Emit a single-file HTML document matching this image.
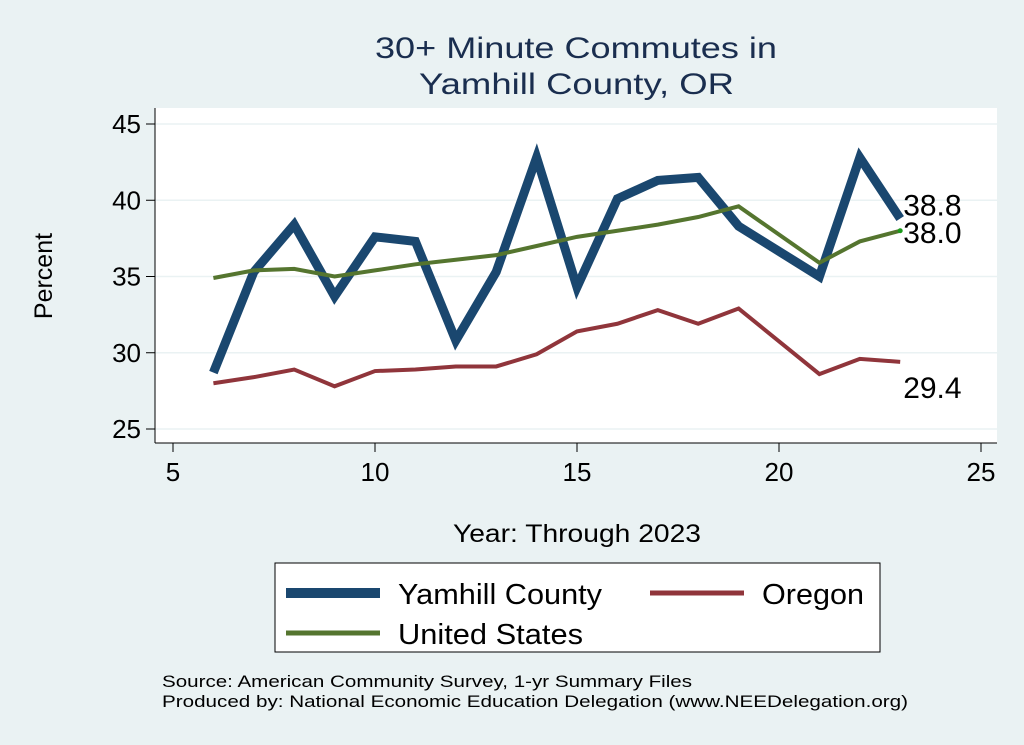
<!DOCTYPE html>
<html><head><meta charset="utf-8"><style>
body{margin:0;background:#eaf2f3;font-family:"Liberation Sans",Arial,sans-serif;}
svg{display:block}
</style></head><body>
<svg width="1024" height="745" viewBox="0 0 1024 745">
<rect x="0" y="0" width="1024" height="745" fill="#eaf2f3"/>
<text x="375" y="58" font-size="30" fill="#1a2e4f" textLength="402" lengthAdjust="spacingAndGlyphs">30+ Minute Commutes in</text>
<text x="419" y="94" font-size="30" fill="#1a2e4f" textLength="315" lengthAdjust="spacingAndGlyphs">Yamhill County, OR</text>
<rect x="155" y="108" width="842" height="335" fill="#fff"/>
<g id="grid"></g><g id="axes"></g><g id="series"></g>
<text x="52" y="276" font-size="25" text-anchor="middle" transform="rotate(-90 52 276)">Percent</text>
<text x="453" y="542" font-size="25" textLength="248" lengthAdjust="spacingAndGlyphs">Year: Through 2023</text>
<g>
<rect x="275" y="563" width="605" height="89" fill="#fff" stroke="#000" stroke-width="1"/>
<line x1="286" y1="593" x2="380" y2="593" stroke="#1a476f" stroke-width="10"/>
<text x="398" y="604" font-size="29" textLength="204" lengthAdjust="spacingAndGlyphs">Yamhill County</text>
<line x1="650" y1="593" x2="744" y2="593" stroke="#90353b" stroke-width="5"/>
<text x="762" y="604" font-size="29" textLength="102" lengthAdjust="spacingAndGlyphs">Oregon</text>
<line x1="286" y1="633" x2="380" y2="633" stroke="#55752f" stroke-width="5"/>
<text x="398" y="644" font-size="29" textLength="185" lengthAdjust="spacingAndGlyphs">United States</text>
</g>
<text x="162" y="687" font-size="17" textLength="530" lengthAdjust="spacingAndGlyphs">Source: American Community Survey, 1-yr Summary Files</text>
<text x="162" y="707" font-size="17" textLength="746" lengthAdjust="spacingAndGlyphs">Produced by: National Economic Education Delegation (www.NEEDelegation.org)</text>
</svg>
<script>
const years=[6,7,8,9,10,11,12,13,14,15,16,17,18,19,21,22,23];
const yamhill=[28.7,35.3,38.4,33.7,37.6,37.3,30.8,35.3,42.8,34.3,40.1,41.3,41.5,38.3,35.0,42.8,38.8];
const oregon=[28.0,28.4,28.9,27.8,28.8,28.9,29.1,29.1,29.9,31.4,31.9,32.8,31.9,32.9,28.6,29.6,29.4];
const us=[34.9,35.4,35.5,35.0,35.4,35.8,36.1,36.4,37.0,37.6,38.0,38.4,38.9,39.6,35.9,37.3,38.0];
const xTicks=[5,10,15,20,25];
const yTicks=[25,30,35,40,45];
const NS="http://www.w3.org/2000/svg";
const X=v=>173+(v-5)*40.4;
const Y=v=>429-(v-25)*15.25;
function mk(t,a,p){const e=document.createElementNS(NS,t);for(const k in a)e.setAttribute(k,a[k]);p.appendChild(e);return e;}
const grid=document.getElementById('grid'),axes=document.getElementById('axes'),ser=document.getElementById('series');
mk('line',{x1:155,y1:443,x2:997,y2:443,stroke:'#000','stroke-width':1},axes);
mk('line',{x1:155,y1:108,x2:155,y2:443,stroke:'#000','stroke-width':1},axes);
yTicks.forEach(t=>{
 const g=mk('line',{x1:155,x2:997,y1:Y(t),y2:Y(t),stroke:'#eaf2f3','stroke-width':1.5},grid);
 
 
 mk('line',{x1:146,x2:155,y1:Y(t),y2:Y(t),stroke:'#000'},axes);
 const tx=mk('text',{x:141,y:Y(t)+9,'font-size':26,'text-anchor':'end'},axes);tx.textContent=t;
 
 
});
xTicks.forEach(t=>{
 mk('line',{x1:X(t),x2:X(t),y1:443,y2:452,stroke:'#000'},axes);
 const tx=mk('text',{x:X(t),y:481,'font-size':26,'text-anchor':'middle'},axes);tx.textContent=t;
 
 
});
function line(vals,color,w,name){
 const p=mk('polyline',{points:years.map((y,i)=>X(y)+','+Y(vals[i])).join(' '),fill:'none',stroke:color,'stroke-width':w,'stroke-linejoin':'miter'},ser);
 
 
}
line(oregon,'#90353b',4,'line-oregon');
line(yamhill,'#1a476f',9,'line-yamhill');
line(us,'#55752f',4,'line-us');
const d=mk('circle',{cx:X(years[years.length-1]),cy:Y(us[us.length-1]),r:2.5,fill:'#1a9a1a'},ser);


function lab(vals,dy,name){
 const n=vals.length-1;
 const t=mk('text',{x:X(years[n])+3,y:Y(vals[n])+dy,'font-size':30},ser);t.textContent=vals[n].toFixed(1);
 
 
}
lab(yamhill,-3,'label-yamhill');
lab(us,12,'label-us');
lab(oregon,36,'label-oregon');
</script>
</body></html>
